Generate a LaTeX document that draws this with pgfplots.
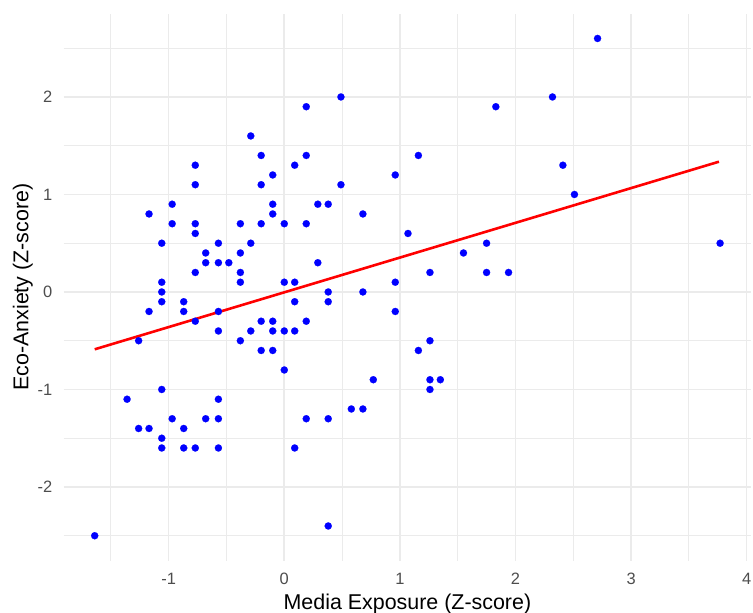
\documentclass[border=0pt]{standalone}
\usepackage{fontspec}
\setmainfont{Liberation Sans}
\usepackage{pgfplots}
\pgfplotsset{compat=1.18}
\definecolor{gridc}{HTML}{EBEBEB}
\definecolor{tickc}{HTML}{4D4D4D}
\begin{document}
\begin{tikzpicture}[x=1bp,y=1bp]
\path[use as bounding box] (0,0) rectangle (753,613);
\begin{axis}[
  at={(63.5bp,52.4bp)}, anchor=south west,
  scale only axis, width=687.8bp, height=547bp,
  xmin=-1.91, xmax=4.04, ymin=-2.755, ymax=2.855,
  axis line style={draw=none},
  tick style={draw=none},
  xtick={-1,0,1,2,3,4}, xticklabels={-1,0,1,2,3,4},
  ytick={-2,-1,0,1,2}, yticklabels={-2,-1,0,1,2},
  minor xtick={-1.5,-0.5,0.5,1.5,2.5,3.5},
  minor ytick={-2.5,-1.5,-0.5,0.5,1.5,2.5},
  grid=both,
  major grid style={draw=gridc, line width=1.6bp},
  minor grid style={draw=gridc, line width=1.0bp},
  xticklabel style={font=\fontsize{16.5}{18}\selectfont, text=tickc, anchor=north, inner sep=0pt, yshift=-12.5bp},
  yticklabel style={font=\fontsize{16.5}{18}\selectfont, text=tickc, anchor=east, inner sep=0pt, xshift=-11bp},
  xlabel={Media Exposure (Z-score)},
  ylabel={Eco-Anxiety (Z-score)},
  xlabel style={font=\fontsize{21.5}{24}\selectfont, at={(rel axis cs:0.5,0)}, anchor=base, yshift=-48.5bp},
  ylabel style={font=\fontsize{21.5}{24}\selectfont, at={(rel axis cs:0,0.5)}, anchor=base, yshift=35.1bp},
  clip=false,
]
\addplot[only marks, mark=*, mark size=3.6bp, color=blue, mark options={fill=blue, draw=blue, line width=0.1bp}] coordinates {
(-1.64,-2.5)
(-1.36,-1.1)
(-1.26,-0.5) (-1.26,-1.4)
(-1.17,0.8) (-1.17,-0.2) (-1.17,-1.4)
(-1.06,0.5) (-1.06,0.1) (-1.06,0) (-1.06,-0.1) (-1.06,-1.0) (-1.06,-1.5) (-1.06,-1.6)
(-0.97,0.9) (-0.97,0.7) (-0.97,-1.3)
(-0.87,-0.1) (-0.87,-0.2) (-0.87,-1.4) (-0.87,-1.6)
(-0.77,1.3) (-0.77,1.1) (-0.77,0.7) (-0.77,0.6) (-0.77,0.2) (-0.77,-0.3) (-0.77,-1.6)
(-0.68,0.4) (-0.68,0.3) (-0.68,-1.3)
(-0.57,0.5) (-0.57,0.3) (-0.57,-0.2) (-0.57,-0.4) (-0.57,-1.1) (-0.57,-1.3) (-0.57,-1.6)
(-0.48,0.3)
(-0.38,0.7) (-0.38,0.4) (-0.38,0.2) (-0.38,0.1) (-0.38,-0.5)
(-0.29,1.6) (-0.29,0.5) (-0.29,-0.4)
(-0.2,1.4) (-0.2,1.1) (-0.2,0.7) (-0.2,-0.3) (-0.2,-0.6)
(-0.1,1.2) (-0.1,0.9) (-0.1,0.8) (-0.1,-0.3) (-0.1,-0.4) (-0.1,-0.6)
(0,0.7) (0,0.1) (0,-0.4) (0,-0.8)
(0.09,1.3) (0.09,0.1) (0.09,-0.1) (0.09,-0.4) (0.09,-1.6)
(0.19,1.9) (0.19,1.4) (0.19,0.7) (0.19,-0.3) (0.19,-1.3)
(0.29,0.9) (0.29,0.3)
(0.38,0.9) (0.38,0) (0.38,-0.1) (0.38,-1.3) (0.38,-2.4)
(0.49,2.0) (0.49,1.1)
(0.58,-1.2)
(0.68,0.8) (0.68,0) (0.68,-1.2)
(0.77,-0.9)
(0.96,1.2) (0.96,0.1) (0.96,-0.2)
(1.07,0.6)
(1.16,1.4) (1.16,-0.6)
(1.26,0.2) (1.26,-0.5) (1.26,-0.9) (1.26,-1.0)
(1.35,-0.9)
(1.55,0.4)
(1.75,0.5) (1.75,0.2)
(1.83,1.9)
(1.94,0.2)
(2.32,2.0)
(2.41,1.3)
(2.51,1.0)
(2.71,2.6)
(3.77,0.5)
};
\addplot[red, line width=2.6bp] coordinates {(-1.64,-0.588) (3.76,1.336)};
\end{axis}
\end{tikzpicture}
\end{document}
